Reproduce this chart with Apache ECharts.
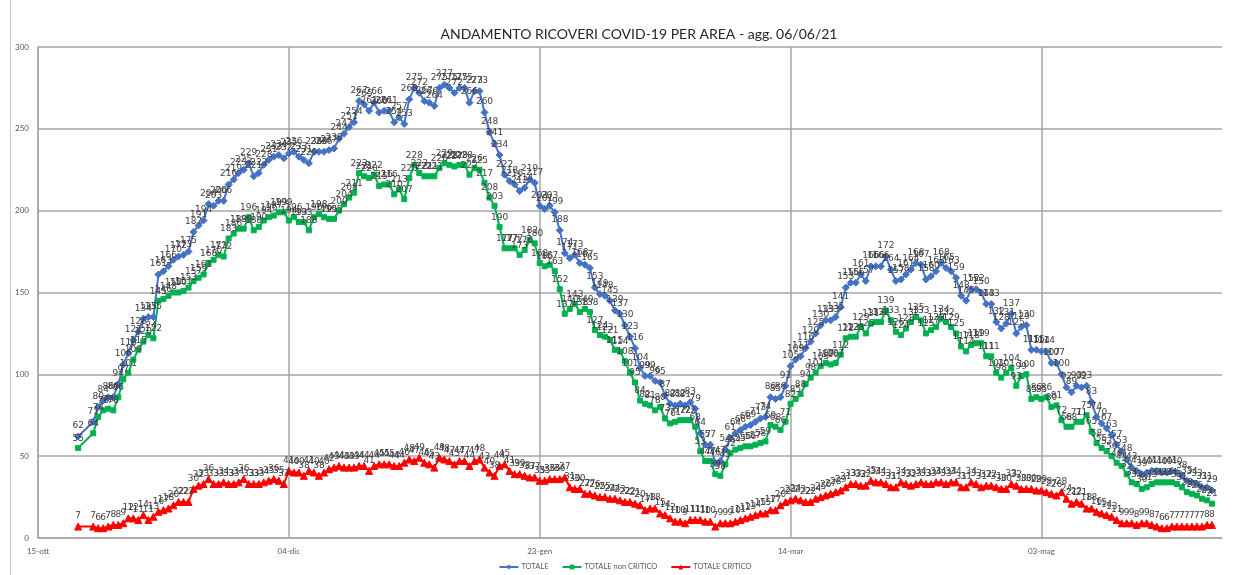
<!DOCTYPE html>
<html>
<head>
<meta charset="utf-8">
<script src="https://cdn.jsdelivr.net/npm/echarts@6/dist/echarts.min.js"></script>
<style>
  html, body { margin: 0; padding: 0; background: #ffffff; }
  #chart { width: 1250px; height: 575px; }
</style>
</head>
<body>
<div id="chart"></div>
<script>
// Axis origin and first reported day (24-25 Oct have no report: null)
const AXIS_START = Date.UTC(2020, 9, 15);
const FIRST_REPORT = Date.UTC(2020, 9, 23);
const AXIS_END_DAYS = 236;
const TICK_STEP = 50;
const tickLabels = ['15-ott', '04-dic', '23-gen', '14-mar', '03-mag'];

const titleText = 'ANDAMENTO RICOVERI COVID-19 PER AREA - agg. 06/06/21';
const seriesNames = ['TOTALE', 'TOTALE non CRITICO', 'TOTALE CRITICO'];

// Daily hospitalised patients, 23/10/2020 - 06/06/2021
const totale = [
  62, null, null,
  71, 80, 84, 86, 86, 94, 106, 113, 121, 126,
  134, 135, 135, 161, 163, 166, 170, 172, 173, 175,
  187, 191, 194, 204, 203, 206, 206, 216, 219, 223,
  225, 229, 221, 223, 228, 231, 233, 234, 232, 235,
  236, 233, 231, 229, 236, 236, 236, 237, 238, 244,
  247, 251, 254, 267, 265, 261, 266, 260, 261, 261,
  254, 257, 253, 268, 275, 272, 267, 266, 264, 275,
  277, 275, 272, 275, 275, 266, 273, 273, 260, 248,
  241, 234, 222, 218, 216, 212, 214, 219, 217, 203,
  201, 203, 199, 188, 174, 171, 173, 168, 167, 165,
  153, 149, 148, 145, 139, 137, 130, 123, 116, 104,
  99, 99, 96, 95, 87, 82, 81, 82, 81, 83,
  79, 64, 57, 57, 46, 47, 54, 61, 64, 66,
  68, 69, 71, 73, 74, 86, 85, 86, 93, 105,
  109, 111, 116, 120, 125, 130, 133, 133, 135, 141,
  153, 156, 156, 161, 157, 166, 166, 166, 172, 164,
  157, 158, 161, 164, 168, 167, 158, 160, 163, 168,
  165, 163, 159, 148, 145, 152, 152, 150, 143, 143,
  132, 128, 131, 137, 125, 129, 130, 115, 115, 114,
  114, 107, 107, 100, 92, 89, 93, 92, 93, 83,
  74, 70, 67, 63, 57, 53, 48, 43, 41, 39,
  40, 41, 41, 40, 40, 41, 40, 38, 35, 34,
  33, 31, 31, 29
];

const nonCritico = [
  55, null, null,
  64, 74, 78, 79, 78, 86, 97, 101, 109, 115,
  120, 124, 122, 145, 146, 148, 150, 150, 151, 153,
  157, 159, 161, 168, 170, 173, 172, 183, 186, 189,
  189, 196, 188, 190, 194, 196, 197, 199, 199, 194,
  196, 193, 193, 188, 196, 198, 196, 195, 195, 200,
  204, 208, 211, 223, 221, 220, 222, 215, 216, 216,
  210, 213, 207, 220, 228, 223, 221, 221, 221, 226,
  229, 228, 227, 228, 228, 222, 226, 225, 217, 208,
  203, 190, 177, 177, 177, 173, 176, 182, 180, 168,
  166, 167, 163, 152, 137, 140, 143, 138, 140, 138,
  127, 124, 123, 121, 115, 114, 108, 101, 95, 84,
  82, 81, 78, 80, 73, 70, 71, 72, 72, 72,
  68, 53, 47, 47, 39, 38, 45, 52, 54, 55,
  56, 56, 57, 58, 59, 69, 68, 66, 71, 82,
  85, 88, 94, 98, 101, 105, 107, 106, 107, 112,
  122, 123, 123, 129, 125, 131, 132, 132, 139, 133,
  126, 124, 128, 132, 135, 133, 125, 127, 129, 134,
  132, 129, 125, 117, 114, 118, 119, 119, 111, 111,
  101, 98, 101, 104, 93, 99, 100, 85, 86, 85,
  86, 80, 81, 72, 68, 68, 71, 71, 75, 65,
  58, 55, 53, 50, 46, 44, 39, 34, 33, 30,
  31, 33, 34, 34, 34, 34, 33, 31, 28, 27,
  26, 24, 23, 21
];

const critico = [
  7, null, null,
  7, 6, 6, 7, 8, 8, 9, 12, 12, 11,
  14, 11, 13, 16, 17, 18, 20, 22, 22, 22,
  30, 32, 33, 36, 33, 33, 34, 33, 33, 34,
  36, 33, 33, 33, 34, 35, 36, 35, 33, 41,
  40, 40, 38, 41, 40, 38, 40, 42, 43, 44,
  43, 43, 43, 44, 44, 41, 44, 45, 45, 45,
  44, 44, 46, 48, 47, 49, 46, 45, 43, 49,
  48, 47, 45, 47, 47, 44, 47, 48, 43, 40,
  38, 44, 45, 41, 39, 39, 38, 37, 37, 35,
  35, 36, 36, 36, 37, 31, 30, 30, 27, 27,
  26, 25, 25, 24, 24, 23, 22, 22, 21, 20,
  17, 18, 18, 15, 14, 12, 10, 10, 9, 11,
  11, 11, 10, 10, 7, 9, 9, 9, 10, 11,
  12, 13, 14, 15, 15, 17, 17, 20, 22, 23,
  24, 23, 22, 22, 24, 25, 26, 27, 28, 29,
  31, 33, 33, 32, 32, 35, 34, 34, 33, 31,
  31, 34, 33, 32, 33, 34, 33, 33, 34, 34,
  33, 34, 34, 31, 31, 34, 33, 31, 32, 32,
  31, 30, 30, 33, 32, 30, 30, 30, 29, 29,
  28, 27, 26, 28, 24, 21, 22, 21, 18, 18,
  16, 15, 14, 13, 11, 9, 9, 9, 8, 9,
  9, 8, 7, 6, 6, 7, 7, 7, 7, 7,
  7, 7, 8, 8
];

const DAY_MS = 86400000;
const firstDay = Math.round((FIRST_REPORT - AXIS_START) / DAY_MS);

// [day offset, value] pairs, skipping days without a report
function toPoints(values) {
  const pts = [];
  values.forEach((v, i) => { if (v !== null) pts.push([firstDay + i, v]); });
  return pts;
}

const chart = echarts.init(document.getElementById('chart'), null, { renderer: 'canvas' });

const labelStyle = {
  show: true,
  position: 'top',
  distance: 2,
  fontSize: 9,
  fontFamily: 'DejaVu Sans',
  color: '#404040',
  formatter: p => p.value[1]
};

function lineSeries(name, values, color, symbol, size) {
  return {
    name: name,
    type: 'line',
    data: toPoints(values),
    symbol: symbol,
    symbolSize: size,
    showAllSymbol: true,
    itemStyle: { color: color, borderColor: color },
    lineStyle: { color: color, width: 2 },
    label: labelStyle,
    emphasis: { disabled: true },
    z: 2
  };
}

chart.setOption({
  animation: false,
  backgroundColor: '#ffffff',
  title: {
    text: titleText,
    left: 634,
    top: 22,
    textAlign: 'center',
    textStyle: { fontFamily: 'Lato', fontSize: 14, fontWeight: 'normal', color: '#262626' }
  },
  legend: {
    data: seriesNames,
    top: 563,
    left: 'center',
    padding: 0,
    itemWidth: 19,
    itemHeight: 6,
    itemGap: 13,
    textStyle: { fontFamily: 'Lato', fontSize: 7.5, color: '#595959', padding: [0, 0, 0, -2] }
  },
  // chart-area frame edge on the left
  graphic: [{
    type: 'line',
    shape: { x1: 10.5, y1: 0, x2: 10.5, y2: 575 },
    style: { stroke: '#c8c8c8', lineWidth: 1 },
    silent: true
  }],
  grid: { left: 38, right: 28, top: 47, bottom: 37, containLabel: false },
  xAxis: {
    type: 'value',
    min: 0,
    max: AXIS_END_DAYS,
    interval: TICK_STEP,
    axisLine: { show: true, lineStyle: { color: '#a6a6a6', width: 1.5 } },
    axisTick: { show: false },
    axisLabel: {
      fontFamily: 'Lato',
      fontSize: 8,
      color: '#595959',
      margin: 9,
      showMaxLabel: false,
      formatter: v => {
        const k = v / TICK_STEP;
        return Number.isInteger(k) && tickLabels[k] ? tickLabels[k] : '';
      }
    },
    splitLine: { show: true, showMaxLine: false, lineStyle: { color: '#a6a6a6', width: 1.5 } }
  },
  yAxis: {
    type: 'value',
    min: 0,
    max: 300,
    interval: 50,
    axisLine: { show: true, lineStyle: { color: '#a6a6a6', width: 1.5 } },
    axisTick: { show: false },
    axisLabel: { fontFamily: 'Lato', fontSize: 8, color: '#595959', margin: 9 },
    splitLine: { show: true, lineStyle: { color: '#a6a6a6', width: 1.5 } }
  },
  series: [
    lineSeries(seriesNames[0], totale, '#4472c4', 'diamond', 7),
    lineSeries(seriesNames[1], nonCritico, '#00b050', 'rect', 5),
    lineSeries(seriesNames[2], critico, '#ff0000', 'triangle', 7)
  ]
});
</script>
</body>
</html>
